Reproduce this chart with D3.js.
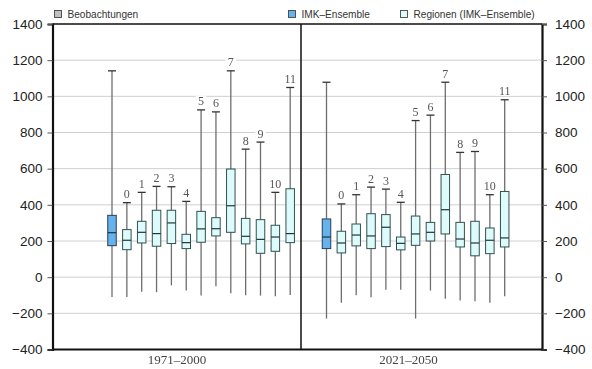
<!DOCTYPE html>
<html>
<head>
<meta charset="utf-8">
<script src="https://cdn.jsdelivr.net/npm/d3@7"></script>
<style>
  body { margin: 0; background: #fff; }
  svg { display: block; }
  .gray-aa { filter: url(#flat); }
</style>
</head>
<body>
<svg id="chart" width="592" height="369"></svg>
<script>
// Periods shown as two panels
const periods = ["1971–2000", "2021–2050"];
// Box order inside each panel: IMK ensemble, then regions 0..11
const boxKeys = ["IMK", "0", "1", "2", "3", "4", "5", "6", "7", "8", "9", "10", "11"];

// Five-number summaries per period: whisker low, box low, median, box high, whisker high
const lowP1    = [-109, -109, -81, -83, -45, -74, -102, -50, -89, -100, -102, -105, -98];
const q1P1     = [174, 152, 189, 171, 186, 158, 193, 228, 248, 184, 132, 143, 191];
const medP1    = [246, 204, 248, 241, 300, 191, 267, 268, 395, 226, 209, 222, 241];
const q3P1     = [342, 263, 309, 370, 370, 237, 364, 329, 598, 325, 318, 287, 489];
const highP1   = [1141, 412, 469, 502, 500, 419, 925, 914, 1141, 708, 747, 469, 1049];

const lowP2    = [-229, -142, -100, -111, -70, -70, -229, -74, -120, -129, -133, -142, -105];
const q1P2     = [158, 134, 173, 158, 169, 151, 176, 200, 239, 167, 118, 130, 167];
const medP2    = [222, 189, 233, 228, 276, 187, 239, 248, 373, 211, 189, 204, 217];
const q3P2     = [322, 254, 294, 351, 346, 222, 338, 303, 568, 303, 309, 272, 474];
const highP2   = [1078, 405, 456, 498, 487, 414, 866, 896, 1078, 690, 695, 456, 981];

const yTicks = [-400, -200, 0, 200, 400, 600, 800, 1000, 1200, 1400];
const legendLabels = ["Beobachtungen", "IMK–Ensemble", "Regionen (IMK–Ensemble)"];

const svg = d3.select("#chart");

// no-op filter so label text is rasterised in grayscale
svg.append("defs").append("filter").attr("id", "flat")
  .append("feOffset").attr("dx", 0).attr("dy", 0);

// Frame geometry
const frameL = 52.5, frameR = 542, frameT = 24, frameB = 349.5, divider = 301;

const y = d3.scaleLinear().domain([-400, 1400]).range([frameB, frameT]);

// Box positions per panel
const xPanels = [
  d3.scalePoint().domain(boxKeys).range([112, 290.2]),
  d3.scalePoint().domain(boxKeys).range([326.5, 504.7])
];
const periodLabelX = [177, 408.5];

const colors = {
  obs: "#c0c0c0",
  imk: "#66b2ee",
  reg: "#ddfbfb"
};

// Gridlines
svg.append("g")
  .selectAll("line")
  .data(yTicks.filter(t => t > -400 && t < 1400))
  .join("line")
  .attr("x1", frameL).attr("x2", frameR)
  .attr("y1", d => y(d)).attr("y2", d => y(d))
  .attr("stroke", "#cfcfcf").attr("stroke-width", 1);

// Boxes
const periodData = [
  { low: lowP1, q1: q1P1, med: medP1, q3: q3P1, high: highP1 },
  { low: lowP2, q1: q1P2, med: medP2, q3: q3P2, high: highP2 }
];

const boxW = 8.5, capW = 8;

periodData.forEach((pd, p) => {
  const x = xPanels[p];
  const rows = boxKeys.map((k, i) => ({
    key: k, low: pd.low[i], q1: pd.q1[i], med: pd.med[i], q3: pd.q3[i], high: pd.high[i]
  }));
  const g = svg.append("g").selectAll("g").data(rows).join("g");

  // whisker
  g.append("line")
    .attr("x1", d => x(d.key)).attr("x2", d => x(d.key))
    .attr("y1", d => y(d.high)).attr("y2", d => y(d.low))
    .attr("stroke", "#6e6e6e").attr("stroke-width", 1.3);
  // caps
  g.append("line")
    .attr("x1", d => x(d.key) - capW / 2).attr("x2", d => x(d.key) + capW / 2)
    .attr("y1", d => y(d.high)).attr("y2", d => y(d.high))
    .attr("stroke", "#333").attr("stroke-width", 1.3);
  // box
  g.append("rect")
    .attr("x", d => x(d.key) - boxW / 2)
    .attr("width", boxW)
    .attr("y", d => y(d.q3))
    .attr("height", d => y(d.q1) - y(d.q3))
    .attr("fill", d => d.key === "IMK" ? colors.imk : colors.reg)
    .attr("stroke", d => d.key === "IMK" ? "#2d3e4e" : "#33504f")
    .attr("stroke-width", 1);
  // median
  g.append("line")
    .attr("x1", d => x(d.key) - boxW / 2).attr("x2", d => x(d.key) + boxW / 2)
    .attr("y1", d => y(d.med)).attr("y2", d => y(d.med))
    .attr("stroke", "#253535").attr("stroke-width", 1.2);
  // region number above the upper whisker, on a white patch over the grid
  const lab = g.filter(d => d.key !== "IMK").append("g").attr("class", "gray-aa");
  lab.append("rect")
    .attr("x", d => x(d.key) - (d.key.length * 3.2 + 2))
    .attr("width", d => d.key.length * 6.4 + 4)
    .attr("y", d => y(d.high) - 14)
    .attr("height", 10)
    .attr("fill", "#fff");
  lab.append("text")
    .attr("x", d => x(d.key))
    .attr("y", d => y(d.high) - 4.5)
    .attr("text-anchor", "middle")
    .attr("font-family", "'Liberation Serif', 'DejaVu Serif', serif")
    .attr("font-size", 12)
    .attr("fill", "#555")
    .text(d => d.key);
});

// Frame
const frame = svg.append("g").attr("fill", "none").attr("stroke", "#111");
frame.append("line").attr("x1", frameL).attr("x2", frameR).attr("y1", frameT).attr("y2", frameT).attr("stroke-width", 1.5);
frame.append("line").attr("x1", frameL).attr("x2", frameR).attr("y1", frameB).attr("y2", frameB).attr("stroke-width", 1.8);
frame.append("line").attr("x1", divider).attr("x2", divider).attr("y1", frameT).attr("y2", frameB).attr("stroke-width", 1.5);

// Axes
const fmt = d => d < 0 ? "−" + Math.abs(d) : d;
const axisL = svg.append("g").attr("transform", `translate(${frameL},0)`)
  .call(d3.axisLeft(y).tickValues(yTicks).tickSize(5).tickPadding(5).tickFormat(fmt));
const axisR = svg.append("g").attr("transform", `translate(${frameR},0)`)
  .call(d3.axisRight(y).tickValues(yTicks).tickSize(5).tickPadding(8).tickFormat(fmt));
[axisL, axisR].forEach(a => {
  a.select(".domain").attr("stroke", "#111").attr("stroke-width", 2.2);
  a.selectAll(".tick line").attr("stroke", "#555").attr("stroke-width", 1);
  a.selectAll(".tick text")
    .attr("font-family", "'Liberation Sans', Arial, sans-serif")
    .attr("font-size", 13.5)
    .attr("fill", "#222");
});

// Period labels
svg.append("g").attr("class", "gray-aa").selectAll("text")
  .data(periods)
  .join("text")
  .attr("x", (d, i) => periodLabelX[i])
  .attr("y", 364)
  .attr("text-anchor", "middle")
  .attr("font-family", "'Liberation Serif', 'DejaVu Serif', serif")
  .attr("font-size", 13)
  .attr("fill", "#444")
  .text(d => d);

// Legend
const legendX = [54.5, 288.5, 400.5];
const legendFill = [colors.obs, colors.imk, colors.reg];
const lg = svg.append("g").selectAll("g").data(legendLabels).join("g")
  .attr("transform", (d, i) => `translate(${legendX[i]},10.5)`);
lg.append("rect").attr("width", 7).attr("height", 7)
  .attr("fill", (d, i) => legendFill[i]).attr("stroke", "#444").attr("stroke-width", 0.9);
lg.append("text").attr("x", 13).attr("y", 7.5)
  .attr("font-family", "'Liberation Sans', Arial, sans-serif")
  .attr("font-size", 10.1)
  .attr("fill", "#333")
  .text(d => d);
</script>
</body>
</html>
